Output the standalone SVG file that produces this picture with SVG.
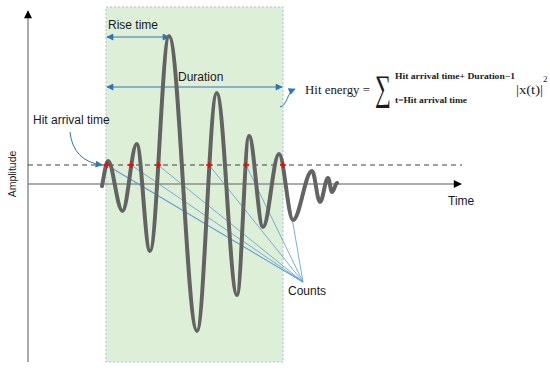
<svg xmlns="http://www.w3.org/2000/svg" width="550" height="371" viewBox="0 0 550 371">
<style>
.lbl{font-family:"Liberation Sans",Arial,sans-serif;font-size:12px;fill:#1a1a1a}
.math{font-family:"Liberation Serif","Times New Roman",serif;fill:#1a1a1a}
.axis{stroke:#8f8f8f;stroke-width:1.5;fill:none}
.blue{stroke:#2E75B6;stroke-width:1;fill:none}
.cnt{stroke:#5B9BD5;stroke-width:0.8;fill:none}
.cross{stroke:#ff0000;stroke-width:1.6}
</style>
<defs>
<marker id="ah" viewBox="0 0 10 10" refX="9" refY="5" markerWidth="8" markerHeight="7" markerUnits="userSpaceOnUse" orient="auto-start-reverse">
<path d="M0,0 L10,5 L0,10 z" fill="#2E75B6"/>
</marker>
<marker id="axh" viewBox="0 0 10 10" refX="9" refY="5" markerWidth="9" markerHeight="8" markerUnits="userSpaceOnUse" orient="auto">
<path d="M0,0 L10,5 L0,10 z" fill="#000"/>
</marker>
</defs>
<rect width="550" height="371" fill="#fff"/>
<g id="window">
<rect x="106" y="7" width="177" height="355" fill="#DEEFD8" stroke="#9DC3E6" stroke-width="1" stroke-dasharray="2,2"/>
</g>
<g id="axes">
<line class="axis" x1="28" y1="362" x2="28" y2="11" marker-end="url(#axh)"/>
<line class="axis" x1="28" y1="184" x2="461" y2="184" marker-end="url(#axh)"/>
<line x1="28" y1="165" x2="462" y2="165" stroke="#404040" stroke-width="1.2" stroke-dasharray="5,4"/>
</g>
<g id="connectors">
<line class="cnt" x1="107" y1="165" x2="303" y2="282"/>
<line class="cnt" x1="111" y1="168" x2="303" y2="282"/>
<line class="cnt" x1="131" y1="165" x2="303" y2="282"/>
<line class="cnt" x1="158" y1="165" x2="303" y2="282"/>
<line class="cnt" x1="209" y1="165" x2="303" y2="282"/>
<line class="cnt" x1="246" y1="165" x2="303" y2="282"/>
<line class="cnt" x1="283" y1="165" x2="303" y2="282"/>
<line class="blue" x1="107" y1="37" x2="169" y2="37" marker-start="url(#ah)" marker-end="url(#ah)"/>
<line class="blue" x1="107" y1="87" x2="282" y2="87" marker-start="url(#ah)" marker-end="url(#ah)"/>
<path class="blue" d="M70,132 Q73,161 102,165" marker-end="url(#ah)"/>
<path class="blue" d="M280,107 C288,105 286,93 295,89" marker-end="url(#ah)"/>
</g>
<g id="waveform">
<path d="M102,186 C104,176 106,161 108,161 C113,161 117,211 122.5,211 C127.5,211 131.7,144 136.7,144 C141.5,144 145,251 150,251 C156.8,251 162.2,36 169,36 C179,36 187,331 197,331 C204,331 209.6,93 216.7,93 C224,93 229.8,295 237,295 C241.3,295 244.7,136 249,136 C254,136 258,227 263,227 C268.8,227 273.2,154 279,154 C284,154 288,220 293,220 C299.8,220 305.2,171 312,171 C315,171 317,202 320,202 C323,202 325,178 328,178 C329.5,178 330.5,192 332,192 C334,192 335,184 337,183" fill="none" stroke="#636363" stroke-width="4" stroke-linecap="round" stroke-linejoin="round"/>
</g>
<g id="crossings">
<path class="cross" d="M104,165h6M107,162v6 M128,165h6M131,162v6 M155,165h6M158,162v6 M206,165h6M209,162v6 M243,165h6M246,162v6 M280,165h6M283,162v6"/>
</g>
<g id="labels">
<text class="lbl" x="108" y="29">Rise time</text>
<text class="lbl" x="178" y="81">Duration</text>
<text class="lbl" x="33" y="124">Hit arrival time</text>
<text class="lbl" x="288" y="295">Counts</text>
<text class="lbl" x="448" y="205">Time</text>
<text class="lbl" style="font-size:10.5px" text-anchor="middle" transform="translate(16,174) rotate(-90)">Amplitude</text>
</g>
<g id="formula">
<text class="math" x="305" y="94" font-size="13" textLength="65" lengthAdjust="spacingAndGlyphs">Hit energy =</text>
<text class="math" font-size="36" transform="translate(375,100) scale(0.62,1)">∑</text>
<text class="math" x="395" y="79" font-size="9" font-weight="bold" textLength="120" lengthAdjust="spacingAndGlyphs">Hit arrival time+ Duration−1</text>
<text class="math" x="395" y="103" font-size="9" font-weight="bold" textLength="72" lengthAdjust="spacingAndGlyphs">t=Hit arrival time</text>
<text class="math" x="516" y="94" font-size="13" textLength="27" lengthAdjust="spacingAndGlyphs">|x(t)|</text>
<text class="math" x="543" y="82" font-size="9">2</text>
</g>
</svg>
